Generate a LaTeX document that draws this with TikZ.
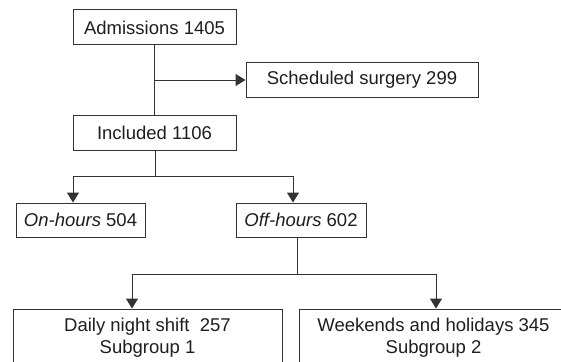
\documentclass[tikz,border=0pt]{standalone}
\usepackage{fontspec}
\setmainfont{Liberation Sans}
\usetikzlibrary{arrows.meta}
\definecolor{ln}{HTML}{333333}
\definecolor{tx}{HTML}{1E1E1E}
\tikzset{
  box/.style={draw=ln, line width=1pt, rectangle, inner sep=0pt, text=tx,
    font=\fontsize{18.5}{21.5}\selectfont, align=center},
  conn/.style={draw=ln, line width=1pt},
  arr/.style={conn, -{Triangle[width=12pt,length=10pt]}}
}
\begin{document}
\begin{tikzpicture}[x=1pt,y=-1pt]
\useasboundingbox (0,0) rectangle (561,361);
\clip (0,0) rectangle (561,361);
\node[box, minimum width=163pt, minimum height=35pt] (adm) at (154.5,27.5) {Admissions 1405};
\node[box, minimum width=232pt, minimum height=35pt] (sch) at (362,80) {Scheduled surgery 299};
\node[box, minimum width=163pt, minimum height=35pt] (inc) at (154.5,132.5) {Included 1106};
\node[box, minimum width=129pt, minimum height=34pt] (on) at (80.5,220) {\textit{On-hours} 504};
\node[box, minimum width=130pt, minimum height=34pt] (off) at (301,220) {\textit{Off-hours} 602};
\node[box, minimum width=269pt, minimum height=57pt] (n1) at (147.5,337.5) {Daily night shift\ \ 257\\Subgroup 1};
\node[box, minimum width=269pt, minimum height=57pt] (n2) at (433.5,337.5) {Weekends and holidays 345\\Subgroup 2};
% admissions -> included, branch to scheduled
\coordinate (b1) at (155,80);
\draw[conn] (adm.south) -- (inc.north);
\draw[arr] (b1) -- (sch.west);
% included -> on/off
\coordinate (j1) at (155,176);
\coordinate (l1) at (73,176);
\coordinate (r1) at (293,176);
\draw[conn] (inc.south -| j1) -- (j1);
\draw[conn] (l1) -- (r1);
\draw[arr] (l1) -- (l1 |- on.north);
\draw[arr] (r1) -- (r1 |- off.north);
% off -> subgroups
\coordinate (j2) at (297,274);
\coordinate (l2) at (132,274);
\coordinate (r2) at (436,274);
\draw[conn] (off.south -| j2) -- (j2);
\draw[conn] (l2) -- (r2);
\draw[arr] (l2) -- (l2 |- n1.north);
\draw[arr] (r2) -- (r2 |- n2.north);
\end{tikzpicture}
\end{document}
